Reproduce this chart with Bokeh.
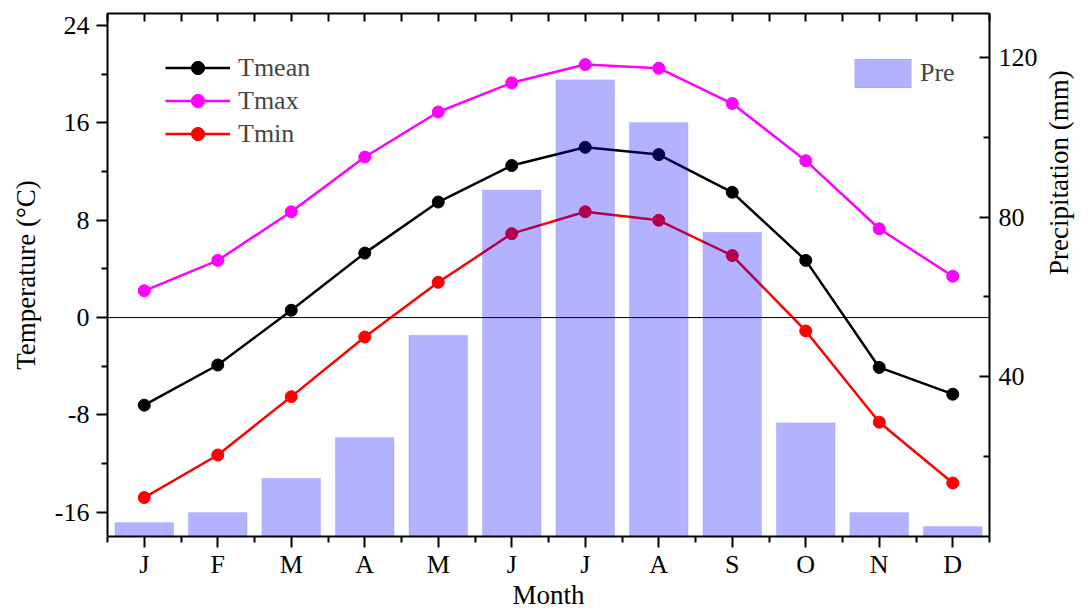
import math
from bokeh.plotting import figure
from bokeh.models import Range1d, LinearAxis, FixedTicker, Span, Legend, LegendItem
from bokeh.embed import file_html
from bokeh.resources import INLINE

months = list(range(1, 13))
month_labels = ["J", "F", "M", "A", "M", "J", "J", "A", "S", "O", "N", "D"]
tmean = [-7.2, -3.9, 0.6, 5.3, 9.5, 12.5, 14.0, 13.4, 10.3, 4.7, -4.1, -6.3]
tmax = [2.2, 4.7, 8.7, 13.2, 16.9, 19.3, 20.8, 20.5, 17.6, 12.9, 7.3, 3.4]
tmin = [-14.8, -11.3, -6.5, -1.6, 2.9, 6.9, 8.7, 8.0, 5.1, -1.1, -8.6, -13.6]
pre = [3.5, 6.0, 14.6, 24.8, 50.4, 86.8, 114.4, 103.7, 76.2, 28.5, 6.0, 2.5]

temp_ticks = [-16, -8, 0, 8, 16, 24]
temp_minor = [-12, -4, 4, 12, 20]
pre_ticks = [40, 80, 120]
pre_minor = [20, 60, 100]

FONT = "Liberation Serif"
TICK_FS = "26px"
LAB_FS = "27px"

p = figure(width=1091, height=612, x_range=Range1d(0.5, 12.5), y_range=Range1d(-18, 25),
           output_backend="svg", toolbar_location=None,
           x_axis_location=None, y_axis_location=None,
           min_border_left=107, min_border_right=101, min_border_top=13, min_border_bottom=74)
p.extra_y_ranges = {"pre": Range1d(0, 131)}
p.xgrid.visible = False
p.ygrid.visible = False
p.outline_line_color = None
p.background_fill_color = "white"
p.border_fill_color = "white"


def style(ax, tin, tout, minin, minout):
    ax.axis_line_width = 2
    ax.axis_line_color = "black"
    ax.major_tick_line_width = 2
    ax.minor_tick_line_width = 2
    ax.major_tick_in = tin
    ax.major_tick_out = tout
    ax.minor_tick_in = minin
    ax.minor_tick_out = minout
    ax.major_label_text_font = FONT
    ax.major_label_text_font_size = TICK_FS
    ax.major_label_text_color = "black"
    ax.axis_label_text_font = FONT
    ax.axis_label_text_font_size = LAB_FS
    ax.axis_label_text_font_style = "normal"
    ax.axis_label_text_color = "black"


half_months = [m + 0.5 for m in range(13)]

bottom = LinearAxis(ticker=FixedTicker(ticks=months, minor_ticks=half_months), axis_label="Month",
                    major_label_overrides={m: l for m, l in zip(months, month_labels)})
style(bottom, 0, 11, 0, 6)
bottom.major_label_standoff = 2
bottom.axis_label_standoff = -2
p.add_layout(bottom, "below")

# top frame edge: ticks only, no labels
top = LinearAxis(ticker=FixedTicker(ticks=[], minor_ticks=sorted(months + half_months)))
style(top, 0, 0, 8, 0)
p.add_layout(top, "above")

left = LinearAxis(ticker=FixedTicker(ticks=temp_ticks, minor_ticks=temp_minor),
                  major_label_overrides={t: str(t) for t in temp_ticks},
                  axis_label="Temperature (°C)")
style(left, 0, 11, 0, 6)
left.major_label_standoff = 7
left.axis_label_standoff = 11
p.add_layout(left, "left")

right = LinearAxis(y_range_name="pre", ticker=FixedTicker(ticks=pre_ticks, minor_ticks=pre_minor),
                   axis_label="Precipitation (mm)")
style(right, 10, 0, 6, 0)
right.major_label_standoff = 9
right.axis_label_standoff = 18
if "axis_label_orientation" in LinearAxis.properties():
    right.axis_label_orientation = math.pi / 2
p.add_layout(right, "right")

p.add_layout(Span(location=0, dimension="width", line_color="black", line_width=1))

renderers = []
for data, color in [(tmean, "black"), (tmax, "#ff00ff"), (tmin, "#ff0000")]:
    ln = p.line(months, data, line_color=color, line_width=2.5)
    sc = p.scatter(months, data, size=12, fill_color=color, line_color=color)
    renderers.append((ln, sc))

bars = p.vbar(x=months, top=pre, bottom=0, width=0.8, y_range_name="pre",
              fill_color="blue", fill_alpha=0.3, line_color="blue", line_alpha=0.08)

leg1 = Legend(items=[LegendItem(label="Tmean", renderers=list(renderers[0])),
                     LegendItem(label="Tmax", renderers=list(renderers[1])),
                     LegendItem(label="Tmin", renderers=list(renderers[2]))],
              location=(58, 386), orientation="vertical",
              glyph_width=65, glyph_height=33, label_height=33, spacing=0,
              padding=0, margin=0, label_standoff=8,
              label_text_font=FONT, label_text_font_size="26px",
              border_line_color=None, background_fill_alpha=0)
leg2 = Legend(items=[LegendItem(label="Pre", renderers=[bars])],
              location=(740, 445), glyph_width=71, glyph_height=36, label_height=36,
              padding=0, margin=0, label_standoff=2,
              label_text_font=FONT, label_text_font_size="26px",
              border_line_color=None, background_fill_alpha=0)
p.add_layout(leg1)
p.add_layout(leg2)

open("out.html", "w").write(file_html(p, INLINE))
